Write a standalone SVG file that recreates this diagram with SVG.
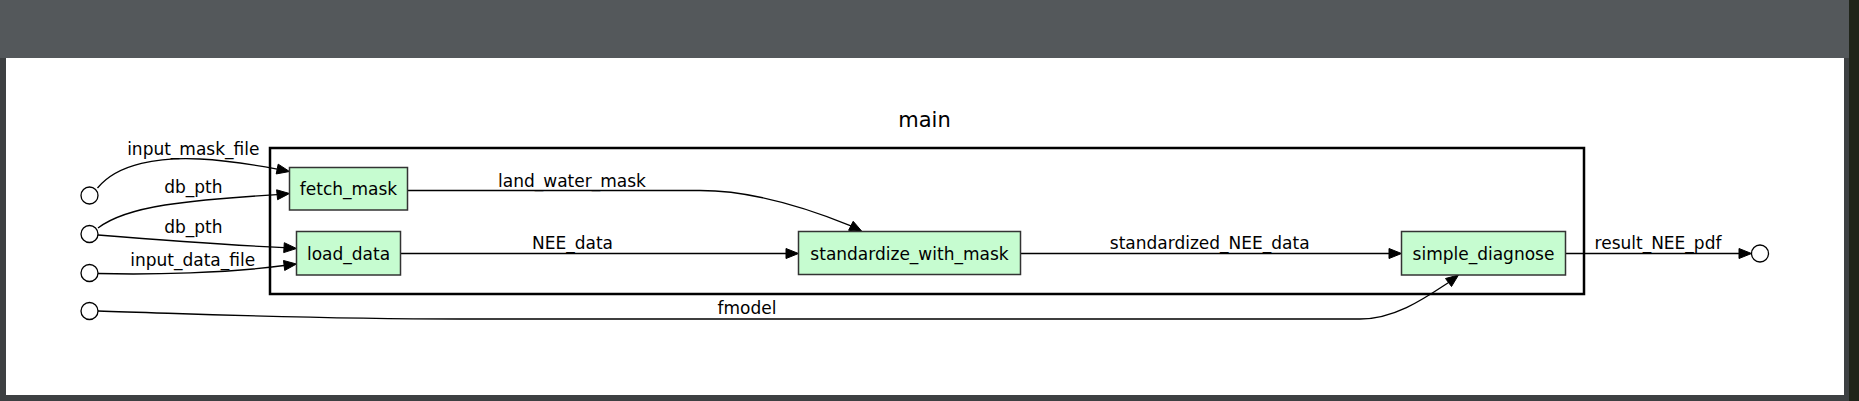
<svg xmlns="http://www.w3.org/2000/svg" width="1859" height="401" viewBox="0 0 1859 401">
<style>
text{font-family:"DejaVu Sans","Liberation Sans",sans-serif;fill:#000}
.lbl{font-size:17px;text-anchor:middle}
.node rect{fill:#c6fcd0;stroke:#333;stroke-width:1.5}
.io circle{fill:#fff;stroke:#000;stroke-width:1.3}
.edges path{fill:none;stroke:#000;stroke-width:1.3}
.edges polygon{fill:#000;stroke:#000;stroke-width:1}
</style>
<rect x="0" y="0" width="1859" height="401" fill="#3d4042"/>
<rect x="1849" y="0" width="10" height="401" fill="#1f2419"/>
<rect x="0" y="0" width="1849" height="58" fill="#54585b"/>
<rect x="6" y="58" width="1838" height="337" fill="#fff"/>
<g id="cluster_main">
<rect x="270" y="148" width="1314" height="146" fill="none" stroke="#000" stroke-width="2.5"/>
<text x="924.5" y="126.5" style="font-size:21px;text-anchor:middle">main</text>
</g>
<g class="edges" id="connectors">
<path d="M97.5,188 C118,163 160,157 200,159 C230,160.5 255,165 277.2,169.05"/>
<polygon points="289.5,171.5 276.2,173.95 278.2,164.15"/>
<text class="lbl" x="193.3" y="155">input_mask_file</text>
<path d="M98,228 C115,215 140,209 165,205 C205,199 245,196.5 277.1,194.7"/>
<polygon points="289.5,193.5 277.6,199.7 276.6,189.8"/>
<text class="lbl" x="193.3" y="192.5">db_pth</text>
<path d="M98,235 C160,240 230,245 284,247.65"/>
<polygon points="296.5,248.5 283.7,252.6 284.3,242.7"/>
<text class="lbl" x="193.3" y="232.5">db_pth</text>
<path d="M98,273.5 C150,275 230,273 284.1,265.5"/>
<polygon points="296.5,264 284.7,270.45 283.5,260.5"/>
<text class="lbl" x="192.7" y="266">input_data_file</text>
<path d="M407.7,190.5 L700,190.5 C750,190.5 800,205 850.9,225.8"/>
<polygon points="862,231.5 848.6,230.3 853.2,221.3"/>
<text class="lbl" x="572" y="187.3">land_water_mask</text>
<path d="M400.7,253.5 L786,253.5"/>
<polygon points="798.5,253.5 786,248.5 786,258.5"/>
<text class="lbl" x="572.5" y="249">NEE_data</text>
<path d="M1020.3,253.5 L1389,253.5"/>
<polygon points="1401.5,253.5 1389,248.5 1389,258.5"/>
<text class="lbl" x="1209.7" y="249">standardized_NEE_data</text>
<path d="M1565.3,253.5 L1739,253.5"/>
<polygon points="1751.5,253.5 1739,248.5 1739,258.5"/>
<text class="lbl" x="1658" y="249">result_NEE_pdf</text>
<path d="M98,311 C200,314 300,319 460,319 L1360,319 C1395,319 1425,298 1448.5,282.5"/>
<polygon points="1458.5,275 1451.5,286.5 1445.5,278.5"/>
<text class="lbl" x="747" y="314.3">fmodel</text>
</g>
<g id="in_input_mask_file" class="io"><circle cx="89.5" cy="195.5" r="8.5"/></g>
<g id="in_db_pth" class="io"><circle cx="89.5" cy="234" r="8.5"/></g>
<g id="in_input_data_file" class="io"><circle cx="89.5" cy="273" r="8.5"/></g>
<g id="in_fmodel" class="io"><circle cx="89.5" cy="311" r="8.5"/></g>
<g id="out_result_NEE_pdf" class="io"><circle cx="1760" cy="253.5" r="8.5"/></g>
<g id="fetch_mask" class="node"><rect x="289.5" y="167.5" width="118" height="42.5"/><text class="lbl" x="348.5" y="194.5">fetch_mask</text></g>
<g id="load_data" class="node"><rect x="296.5" y="231.5" width="104" height="43.5"/><text class="lbl" x="348.5" y="259.5">load_data</text></g>
<g id="standardize_with_mask" class="node"><rect x="798.5" y="231.5" width="222" height="43"/><text class="lbl" x="909.5" y="259.5">standardize_with_mask</text></g>
<g id="simple_diagnose" class="node"><rect x="1401.5" y="231.5" width="164" height="43.5"/><text class="lbl" x="1483.5" y="259.5">simple_diagnose</text></g>
</svg>
